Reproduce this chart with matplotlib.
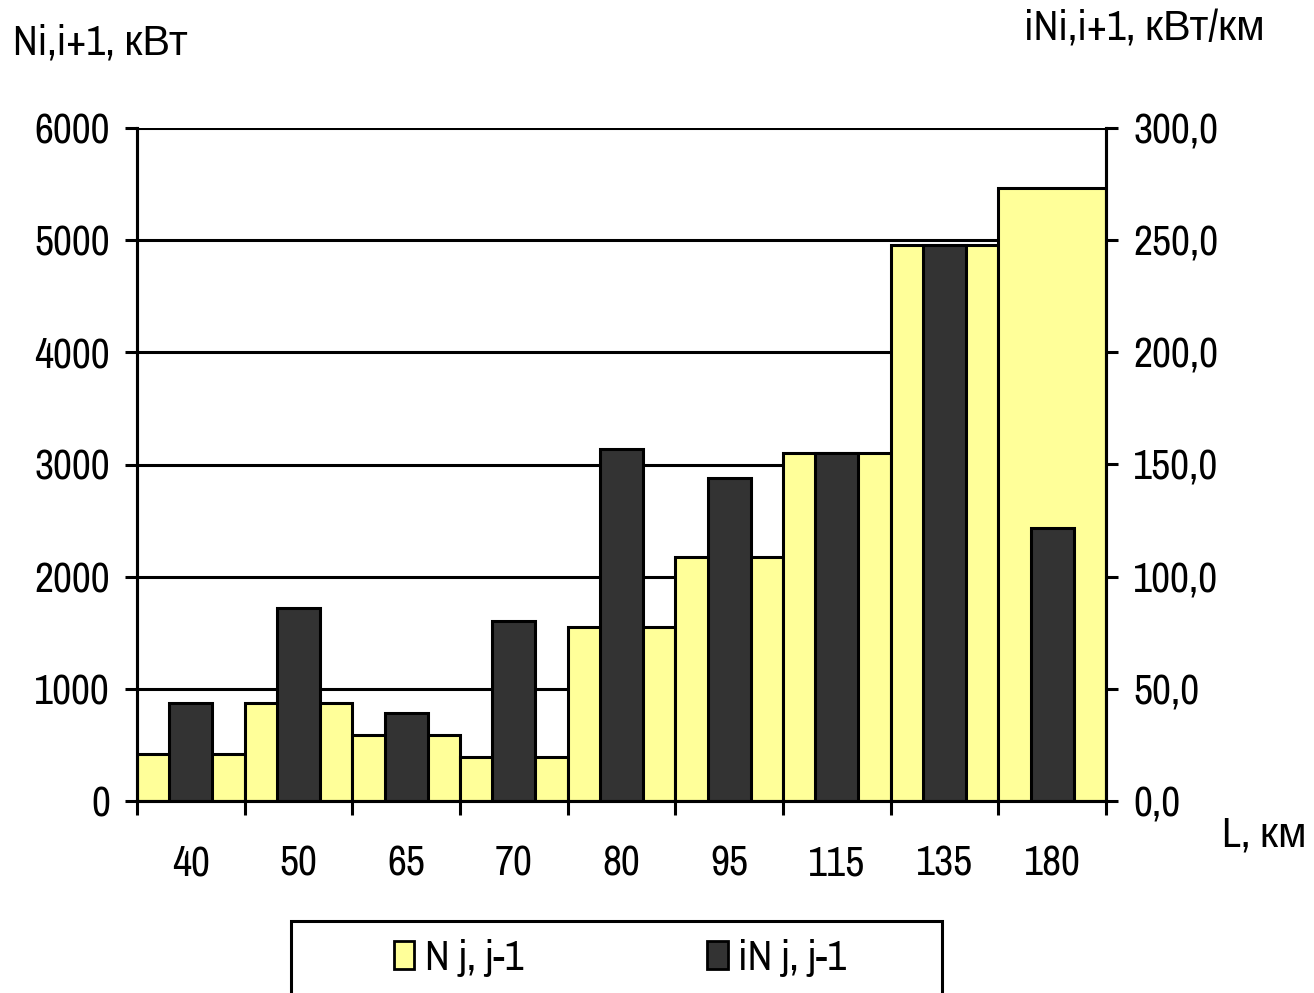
import numpy as np
import matplotlib.pyplot as plt
from matplotlib import font_manager
from matplotlib.patches import Patch, Rectangle

names = {f.name for f in font_manager.fontManager.ttflist}
narrow = [n for n in ('Arial Narrow', 'Archivo Narrow', 'Roboto Condensed', 'PT Sans Narrow')
          if n in names]
plt.rcParams['font.family'] = narrow[:1] + ['Liberation Sans', 'DejaVu Sans']

# distances between stations, km
lengths = ['40', '50', '65', '70', '80', '95', '115', '135', '180']
# power flow on a section, kW
power = [420, 870, 590, 390, 1550, 2175, 3100, 4955, 5465]
# specific power per km, kW/km
power_per_km = [43.7, 86.0, 39.2, 80.2, 156.9, 144.0, 155.1, 247.9, 121.7]

yellow = '#FFFF99'
dark = '#333333'
fs = 30
lw = 2.2

fig = plt.figure(figsize=(13.14, 9.93), dpi=100)
ax = fig.add_axes([137 / 1314, 1 - 801 / 993, (1106 - 137) / 1314, (801 - 128) / 993])
ax2 = ax.twinx()

x = np.arange(len(lengths))
ax.bar(x, power, width=1.0, color=yellow, edgecolor='black', linewidth=lw, zorder=2)
ax2.bar(x, power_per_km, width=0.4, color=dark, edgecolor='black', linewidth=lw, zorder=2)

ax.set_xlim(-0.5, len(lengths) - 0.5)
ax.set_ylim(0, 6000)
ax2.set_ylim(0, 300)

# horizontal gridlines behind the bars
ax.set_axisbelow(True)
ax.yaxis.grid(True, color='black', linewidth=lw)
ax.set_yticks(np.arange(0, 6001, 1000))
ax2.set_yticks(np.arange(0, 301, 50))
ax2.set_yticklabels([f'{v:.1f}'.replace('.', ',') for v in np.arange(0, 301, 50)])

# category labels in the middle, tick marks between categories
ax.set_xticks(x)
ax.set_xticklabels(lengths)
ax.set_xticks(np.arange(-0.5, len(lengths)), minor=True)
ax.tick_params(axis='x', which='major', length=0, pad=31, labelsize=fs)
ax.tick_params(axis='x', which='minor', length=10, width=lw, direction='out')
ax.tick_params(axis='y', length=8.6, width=lw, pad=11, labelsize=fs)
ax2.tick_params(axis='y', length=8.6, width=lw, pad=11, labelsize=fs)

for a in (ax, ax2):
    a.spines['top'].set_visible(False)
    for s in ('left', 'right', 'bottom'):
        a.spines[s].set_linewidth(lw)

fig.text(13 / 1314, 1 - 42 / 993, 'Ni,i+1, кВт', fontsize=fs, va='center', ha='left')
fig.text(1265 / 1314, 1 - 28 / 993, 'iNi,i+1, кВт/км', fontsize=fs, va='center', ha='right')
fig.text(1307 / 1314, 1 - 835 / 993, 'L, км', fontsize=fs, va='center', ha='right')

# legend frame
fig.patches.append(Rectangle((291 / 1314, -0.01), (942 - 291) / 1314, 0.01 + 72 / 993,
                             transform=fig.transFigure, facecolor='white',
                             edgecolor='black', linewidth=lw, zorder=5))
handles = [Patch(facecolor=yellow, edgecolor='black', linewidth=2),
           Patch(facecolor=dark, edgecolor='black', linewidth=2)]
leg = fig.legend(handles, ['N j, j-1', 'iN j, j-1'], ncol=2, fontsize=fs,
                 loc='center', bbox_to_anchor=(620 / 1314, 1 - 958 / 993),
                 frameon=False, borderaxespad=0, columnspacing=4.4,
                 handlelength=0.5, handleheight=0.65, handletextpad=0.25)
leg.set_zorder(6)

fig.savefig('out.png', dpi=100)
